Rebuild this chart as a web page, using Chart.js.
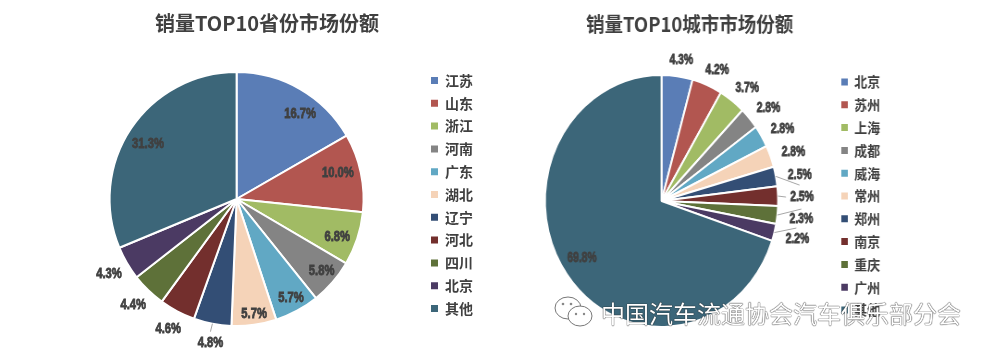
<!DOCTYPE html>
<html>
<head>
<meta charset="utf-8">
<script src="https://cdn.jsdelivr.net/npm/chart.js@4"></script>
<style>
html, body { margin: 0; padding: 0; background: #fff; }
body { position: relative; width: 992px; height: 357px; overflow: hidden; }
canvas { position: absolute; top: 0; filter: blur(0.5px); }
#provinceChart { left: 0; }
#cityChart { left: 500px; transform-origin: 0 0; transform: scaleX(0.925); }
#mark { position: absolute; left: 601px; top: 295px; font: 400 24px/36px "Noto Sans CJK SC"; color: #fff; white-space: nowrap; text-shadow: 0 0 1px #222, 0 0 1px #222; }
#icon { position: absolute; left: 553px; top: 295px; }
</style>
</head>
<body>
<canvas id="provinceChart" width="534" height="357"></canvas>
<canvas id="cityChart" width="430" height="357"></canvas>
<svg id="icon" width="42" height="36" viewBox="0 0 42 36">
  <ellipse cx="15" cy="13" rx="13" ry="11" fill="#fff" stroke="#777"/>
  <ellipse cx="27" cy="21" rx="12" ry="10" fill="#fff" stroke="#777"/>
  <circle cx="10" cy="9" r="1.3" fill="#888"/><circle cx="18" cy="9" r="1.3" fill="#888"/>
  <circle cx="23" cy="19" r="1.2" fill="#888"/><circle cx="31" cy="19" r="1.2" fill="#888"/>
</svg>
<div id="mark">中国汽车流通协会汽车俱乐部分会</div>
<script>
// {{{ data
const provinceTitle = '销量TOP10省份市场份额';
const provinceLabels = ['江苏', '山东', '浙江', '河南', '广东', '湖北', '辽宁', '河北', '四川', '北京', '其他'];
const provinceValues = [16.7, 10.0, 6.8, 5.8, 5.7, 5.7, 4.8, 4.6, 4.4, 4.3, 31.3];
const cityTitle = '销量TOP10城市市场份额';
const cityLabels = ['北京', '苏州', '上海', '成都', '威海', '常州', '郑州', '南京', '重庆', '广州', '其他'];
const cityValues = [4.3, 4.2, 3.7, 2.8, 2.8, 2.8, 2.5, 2.5, 2.3, 2.2, 69.8];
// }}}
// {{{ styles
const colors = ['#5a7db6', '#b25650', '#a1bb64', '#848484', '#61a8c4', '#f5d3b8', '#334e75', '#732f2d', '#5e7139', '#4b3a63', '#3c6679'];
const textColor = '#404040';
// label offsets from the middle of each slice's outer edge
const provinceOffsets = [[0, 25], [-23, 0], [-20, -2], [-11, -11], [-6, -13], [0, -11], [-2, 19], [-9, 18], [-15, 15], [-18, 11], [17, 16]];
const cityOffsets = [[4, -16], [10, -15], [15, -13], [19, -10], [21, -7], [23, -4], [24, -1], [24, 1], [24, 4], [23, 6.5], [15, -17]];
const provinceLeaders = {6: [-2, 8]};
const cityLeaders = {6: [23.7, 8.7], 7: [8, 1], 8: [24, -6], 9: [22, -4.5]};
// }}}
// {{{ slicePercent plugin
function slicePercent(offsets, leaders, stretch)
{
  return {
    id: 'slicePercent',
    afterDatasetsDraw(chart)
    {
      const ctx = chart.ctx;
      const values = chart.data.datasets[0].data;
      chart.getDatasetMeta(0).data.forEach((arc, i) =>
      {
        const mid = (arc.startAngle + arc.endAngle) / 2;
        const ex = arc.x + Math.cos(mid) * arc.outerRadius;
        const ey = arc.y + Math.sin(mid) * arc.outerRadius;
        if (leaders[i])
        {
          ctx.save();
          ctx.strokeStyle = '#a6a6a6';
          ctx.lineWidth = 1;
          ctx.beginPath();
          ctx.moveTo(ex, ey);
          ctx.lineTo(ex + leaders[i][0] / stretch, ey + leaders[i][1]);
          ctx.stroke();
          ctx.restore();
        }
        ctx.save();
        ctx.translate(ex + offsets[i][0] / stretch, ey + offsets[i][1]);
        // the digits are narrow and heavy in the original
        ctx.scale(0.8, 1);
        ctx.font = 'bold 14px "Liberation Sans"';
        ctx.textAlign = 'center';
        ctx.textBaseline = 'middle';
        ctx.fillStyle = textColor;
        ctx.strokeStyle = textColor;
        ctx.lineWidth = 0.8;
        const text = values[i].toFixed(1) + '%';
        ctx.strokeText(text, 0, 0);
        ctx.fillText(text, 0, 0);
        ctx.restore();
      });
    }
  };
}
// }}}
// {{{ legendShift plugin
function legendShift(dx, dy)
{
  return {
    id: 'legendShift',
    afterLayout(chart)
    {
      chart.legend.left += dx;
      chart.legend.right += dx;
      chart.legend.top += dy;
      chart.legend.bottom += dy;
    }
  };
}
// }}}
// {{{ drawPie()
function drawPie(id, title, labels, values, padding, titlePadding, shift, offsets, leaders, stretch)
{
  return new Chart(document.getElementById(id),
  {
    type: 'pie',
    data: {labels: labels, datasets: [{data: values, backgroundColor: colors, borderColor: '#fff', borderWidth: 2}]},
    plugins: [slicePercent(offsets, leaders, stretch), legendShift(shift[0], shift[1])],
    options:
    {
      responsive: false,
      animation: false,
      layout: {padding: padding},
      plugins:
      {
        tooltip: {enabled: false},
        title:
        {
          display: true,
          text: title,
          color: textColor,
          font: {family: '"Noto Sans CJK SC"', size: 20, weight: 'bold', lineHeight: 1.2},
          padding: titlePadding
        },
        legend:
        {
          position: 'right',
          labels:
          {
            boxWidth: 7,
            boxHeight: 7,
            padding: 8.8,
            color: textColor,
            font: {family: '"Noto Sans CJK SC"', size: 14, weight: 'bold'},
            generateLabels(chart)
            {
              return Chart.overrides.pie.plugins.legend.labels.generateLabels(chart).map((item) =>
              {
                item.lineWidth = 0;
                return item;
              });
            }
          }
        }
      }
    }
  });
}
// }}}
drawPie('provinceChart', provinceTitle, provinceLabels, provinceValues, {left: 57, right: 57, top: 0, bottom: 30}, {top: 11, bottom: 36}, [6, 31], provinceOffsets, provinceLeaders, 1);
drawPie('cityChart', cityTitle, cityLabels, cityValues, {left: 20, right: 40, top: 0, bottom: 29}, {top: 12, bottom: 38}, [31, 32], cityOffsets, cityLeaders, 0.925);
</script>
</body>
</html>
